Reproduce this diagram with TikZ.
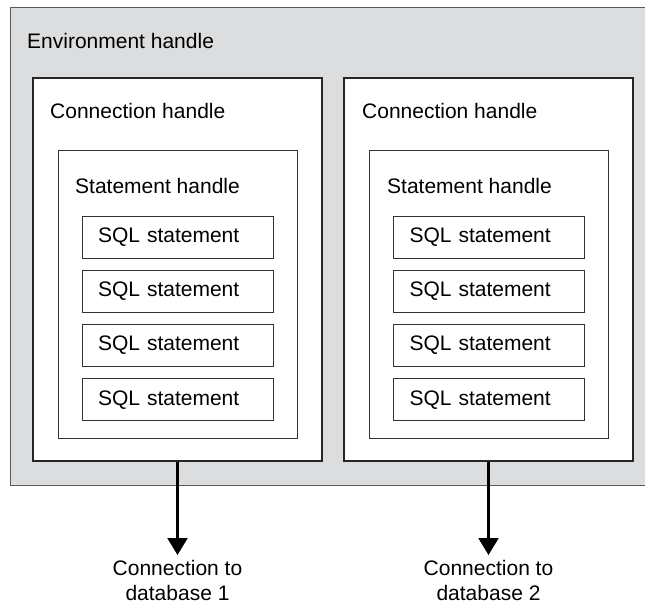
\documentclass[tikz,border=0pt]{standalone}
\usepackage{fontspec}
\setmainfont{Liberation Sans}
\usetikzlibrary{arrows.meta}
\definecolor{envgray}{RGB}{220,221,223}
\definecolor{edgegray}{RGB}{90,90,90}
\begin{document}
\begin{tikzpicture}[x=1pt,y=-1pt,
  every node/.style={font=\fontsize{21}{25}\selectfont},
  connbox/.style={draw=black!85,line width=2.2pt,fill=white,minimum width=289pt,minimum height=383pt,inner sep=0pt},
  stmtbox/.style={draw=black!80,line width=0.9pt,minimum width=239pt,minimum height=288pt,inner sep=0pt},
  sqlbox/.style={draw=black!80,line width=0.9pt,minimum height=42pt,text width=159pt,inner xsep=16pt,inner ysep=0pt,align=left},
  tag/.style={anchor=west,inner sep=0pt},
  dbarrow/.style={line width=2.2pt,-{Triangle[length=17pt,width=20pt]}}
]
\useasboundingbox (0,0) rectangle (645,606);
% environment area, open at the right
\fill[envgray] (10,7) rectangle (645,485);
\draw[edgegray,line width=0.9pt] (645,7) -- (10,7) -- (10,485) -- (645,485);
\node[tag] (envlabel) at (27,41) {Environment handle};

\node[connbox] (conn1) at (177.5,269.5) {};
\node[connbox] (conn2) at (488.5,269.5) {};
\node[tag] (connlabel1) at (50,111) {Connection handle};
\node[tag] (connlabel2) at (362,111) {Connection handle};

\node[stmtbox] (stmt1) at (177.5,294) {};
\node[stmtbox] (stmt2) at (489,294) {};
\node[tag] (stmtlabel1) at (75,186) {Statement handle};
\node[tag] (stmtlabel2) at (387,186) {Statement handle};

\foreach \i in {1,...,4} {
  \node[sqlbox] (sqlA-\i) at (177.5,{237+54.3*(\i-1)}) {SQL statement};
  \node[sqlbox] (sqlB-\i) at (489,{237+54.3*(\i-1)}) {SQL statement};
}

\node[anchor=north,align=center,inner xsep=2pt,inner ysep=5pt] (db1) at (177.5,555) {Connection to\\database 1};
\node[anchor=north,align=center,inner xsep=2pt,inner ysep=5pt] (db2) at (488.5,555) {Connection to\\database 2};
\draw[dbarrow] (conn1.south) -- (db1.north);
\draw[dbarrow] (conn2.south) -- (db2.north);

\end{tikzpicture}
\end{document}
